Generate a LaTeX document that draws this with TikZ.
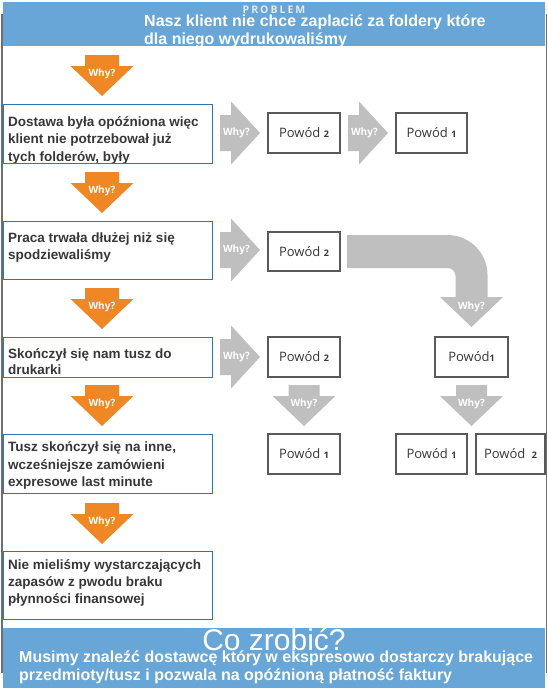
\documentclass[tikz,border=0pt]{standalone}
\usepackage{fontspec}
\setmainfont{Liberation Sans}
\newfontfamily\osf{Open Sans}
\definecolor{barblue}{RGB}{103,166,214}
\definecolor{orng}{RGB}{239,135,37}
\definecolor{garr}{RGB}{191,191,191}
\definecolor{bxblue}{RGB}{46,117,182}
\definecolor{pbord}{RGB}{89,89,89}
\definecolor{txt}{RGB}{55,55,55}
\definecolor{framec}{RGB}{110,110,110}
\definecolor{probc}{RGB}{226,234,243}
\newcommand\dg[1]{{\bfseries\fontsize{9}{10}\selectfont #1}}
% down block arrow: #1 x centre, #2 top y, #3 shaft half width, #4 colour, #5 label name
\newcommand\dnarr[5]{%
  \fill[#4] (#1-#3,#2) -- (#1+#3,#2) -- (#1+#3,#2+11) -- (#1+31.5,#2+11) -- (#1,#2+41)
    -- (#1-31.5,#2+11) -- (#1-#3,#2+11) -- cycle;
  \node[whytext] (#5) at (#1,#2+19) {Why?};}
% right block arrow: #1 left x, #2 centre y, #3 label name
\newcommand\rtarr[3]{%
  \fill[garr] (#1,#2-18) -- (#1+11,#2-18) -- (#1+11,#2-31.5) -- (#1+40,#2) -- (#1+11,#2+31.5)
    -- (#1+11,#2+18) -- (#1,#2+18) -- cycle;
  \node[whytext] (#3) at (#1+16.5,#2) {Why?};}
\begin{document}
\begin{tikzpicture}[x=1pt,y=-1pt,
  whytext/.style={text=white, font=\osf\bfseries\fontsize{10}{12}\selectfont, inner sep=0pt},
  lbox/.style={draw=bxblue, line width=1.3pt, anchor=north west, inner sep=0pt},
  btext/.style={text=txt, font=\bfseries\fontsize{13.5}{16}\selectfont, anchor=base west, inner sep=0pt},
  powod/.style={draw=pbord, line width=1.2pt, fill=white, inner sep=0pt, text=txt,
    minimum height=40pt, font=\osf\fontsize{13}{15}\selectfont},
  wtitle/.style={text=white, font=\bfseries\fontsize{16}{18}\selectfont, anchor=base west, inner sep=0pt}]
\useasboundingbox (0,0) rectangle (548,688);
% frame
\draw[framec, line width=1.5pt] (1.8,14) -- (1.8,673);
\draw[framec, line width=1.5pt] (546.5,14) -- (546.5,673);
% top bar
\fill[barblue] (3,2) rectangle (545,46);
\node[anchor=base, text=probc, font=\osf\bfseries\fontsize{10.5}{12}\selectfont, inner sep=0pt] (prob) at (274,13)
  {P\kern2pt R\kern2pt O\kern2pt B\kern2pt L\kern2pt E\kern2pt M};
\node[wtitle] (t1) at (144,27) {Nasz klient nie chce zaplacić za foldery które};
\node[wtitle] (t2) at (144,44.5) {dla niego wydrukowaliśmy};
% orange arrows
\dnarr{102}{55}{17}{orng}{w1}
\dnarr{102}{172}{17}{orng}{w2}
\dnarr{102}{288}{17}{orng}{w3}
\dnarr{102}{385}{17}{orng}{w4}
\dnarr{102}{503}{17}{orng}{w5}
% left boxes
\begin{scope}
\clip (3,104) rectangle (212,163);
\node[btext] (b1a) at (8,126) {Dostawa była opóźniona więc};
\node[btext] (b1b) at (8,143) {klient nie potrzebował już};
\node[btext] (b1c) at (8,161) {tych folderów, były};
\end{scope}
\node[lbox, minimum width=209pt, minimum height=59pt] (b1) at (3,104) {};
\node[lbox, minimum width=209pt, minimum height=58pt] (b2) at (3,221) {};
\node[btext] (b2a) at (8,242) {Praca trwała dłużej niż się};
\node[btext] (b2b) at (8,259) {spodziewaliśmy};
\node[lbox, minimum width=209pt, minimum height=40pt] (b3) at (3,337) {};
\node[btext] (b3a) at (8,358) {Skończył się nam tusz do};
\node[btext] (b3b) at (8,374) {drukarki};
\node[lbox, minimum width=209pt, minimum height=59pt] (b4) at (3,434) {};
\node[btext] (b4a) at (8,451) {Tusz skończył się na inne,};
\node[btext] (b4b) at (8,469) {wcześniejsze zamówieni};
\node[btext] (b4c) at (8,486) {expresowe last minute};
\node[lbox, minimum width=209pt, minimum height=68pt] (b5) at (3,551) {};
\node[btext] (b5a) at (8,569) {Nie mieliśmy wystarczających};
\node[btext] (b5b) at (8,586) {zapasów z pwodu braku};
\node[btext] (b5c) at (8,603) {płynności finansowej};
% grey right arrows
\rtarr{220}{133}{r1}
\rtarr{348}{133}{r2}
\rtarr{220}{250}{r3}
\rtarr{220}{357}{r4}
% curved grey arrow
\fill[garr] (347,235) [rounded corners=40pt] -- (487.5,235) [sharp corners] -- (487.5,297)
  -- (503,297) -- (471.5,327) -- (440,297) -- (455.5,297) [rounded corners=8pt] -- (455.5,268)
  [sharp corners] -- (347,268) -- cycle;
\node[whytext] (r5) at (471.5,307) {Why?};
% grey down arrows
\dnarr{304}{385}{15.5}{garr}{d1}
\dnarr{471.5}{385}{15.5}{garr}{d2}
% Powód boxes
\node[powod, minimum width=72pt] (p1) at (304,133) {Powód \dg{2}};
\node[powod, minimum width=71pt] (p2) at (431.5,133) {Powód \dg{1}};
\node[powod, minimum width=72pt, minimum height=39pt] (p3) at (304,251.5) {Powód \dg{2}};
\node[powod, minimum width=72pt] (p4) at (304,357) {Powód \dg{2}};
\node[powod, minimum width=73pt] (p5) at (471.5,357) {Powód\dg{1}};
\node[powod, minimum width=72pt] (p6) at (304,454) {Powód \dg{1}};
\node[powod, minimum width=71pt] (p7) at (431.5,454) {Powód \dg{1}};
\node[powod, minimum width=69pt] (p8) at (510.5,454) {Powód\enspace\dg{2}};
% bottom bar
\fill[barblue] (3,628) rectangle (545,688);
\node[anchor=base, text=white, font=\fontsize{30}{32}\selectfont, inner sep=0pt] (co) at (274,650) {Co zrobić?};
\node[wtitle] (m1) at (19,662) {Musimy znaleźć dostawcę który w ekspresowo dostarczy brakujące};
\node[wtitle] (m2) at (19,680) {przedmioty/tusz i pozwala na opóźnioną płatność faktury};
\end{tikzpicture}
\end{document}
